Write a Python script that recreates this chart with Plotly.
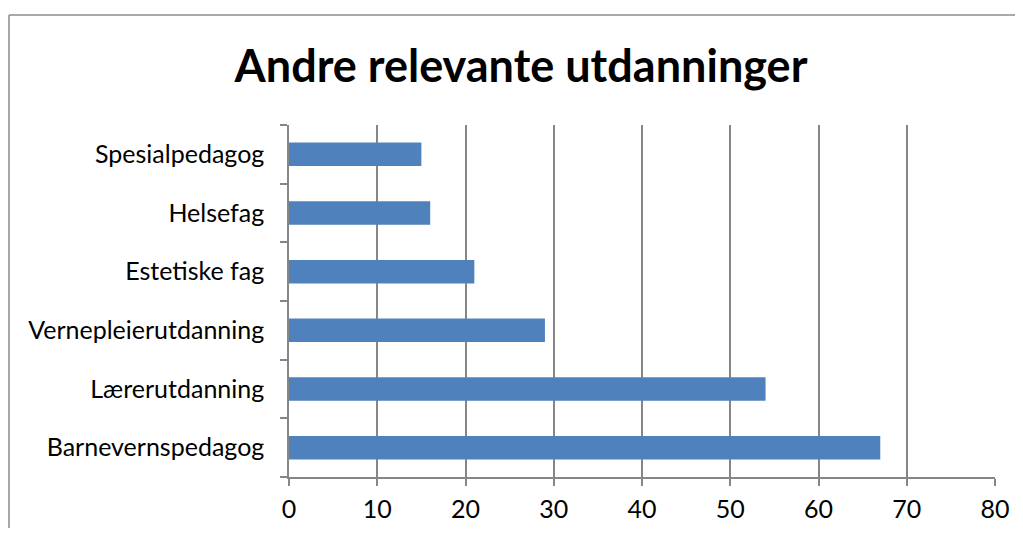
import plotly.graph_objects as go

categories = ["Barnevernspedagog", "Lærerutdanning", "Vernepleierutdanning",
              "Estetiske fag", "Helsefag", "Spesialpedagog"]
values = [67, 54, 29, 21, 16, 15]
x_ticks = [0, 10, 20, 30, 40, 50, 60, 70, 80]
title_text = "Andre relevante utdanninger"

OFF = 8  # page body margin
W, H = 1023 - 2 * OFF, 536 - 2 * OFF
L, T = 289 - OFF, 125 - OFF
R = W - (995 - OFF)
B = H - (477 - OFF)
pw, ph = W - L - R, H - T - B

FONT = "Lato, Calibri, Carlito, sans-serif"
GRID = "#868686"

fig = go.Figure(go.Bar(
    y=categories, x=values, orientation="h",
    marker=dict(color="#4F81BD", line=dict(width=0)),
    width=0.4,
))

fig.update_layout(
    width=W, height=H,
    margin=dict(l=L, r=R, t=T, b=B, autoexpand=False),
    paper_bgcolor="white", plot_bgcolor="white",
    showlegend=False,
    title=dict(text=f"<b>{title_text}</b>", x=(521 - OFF) / W, xref="container", xanchor="center",
               y=1 - (66 - OFF) / H, yref="container", yanchor="middle",
               font=dict(family=FONT, size=45, color="black")),
    font=dict(family=FONT, size=25, color="black"),
    xaxis=dict(range=[0, 80], tickvals=x_ticks, showgrid=True, gridcolor=GRID, gridwidth=1.5,
               showline=True, linecolor=GRID, linewidth=1.5, ticks="outside", ticklen=7,
               tickcolor=GRID, tickwidth=1.5, zeroline=False, ticklabelstandoff=2,
               automargin=False,
               tickfont=dict(family=FONT, size=25, color="black")),
    yaxis=dict(showgrid=False, showline=True, linecolor=GRID, linewidth=1.5,
               ticks="outside", ticklen=7, tickcolor=GRID, tickwidth=1.5,
               tickson="boundaries", ticklabelstandoff=18, automargin=False,
               tickfont=dict(family=FONT, size=25, color="black")),
)

# outer chart border (left and top edges visible)
bx0 = (9 - OFF - L) / pw
btop = 1 + (T - (15 - OFF)) / ph
fig.add_shape(type="line", xref="paper", yref="paper",
              x0=bx0, x1=1 + R / pw + 0.05, y0=btop, y1=btop,
              line=dict(color="#8c8c8c", width=1.5), layer="below")
fig.add_shape(type="line", xref="paper", yref="paper",
              x0=bx0, x1=bx0, y0=btop, y1=-(B + 20) / ph,
              line=dict(color="#8c8c8c", width=1.5), layer="below")

fig.write_html("out.html")
